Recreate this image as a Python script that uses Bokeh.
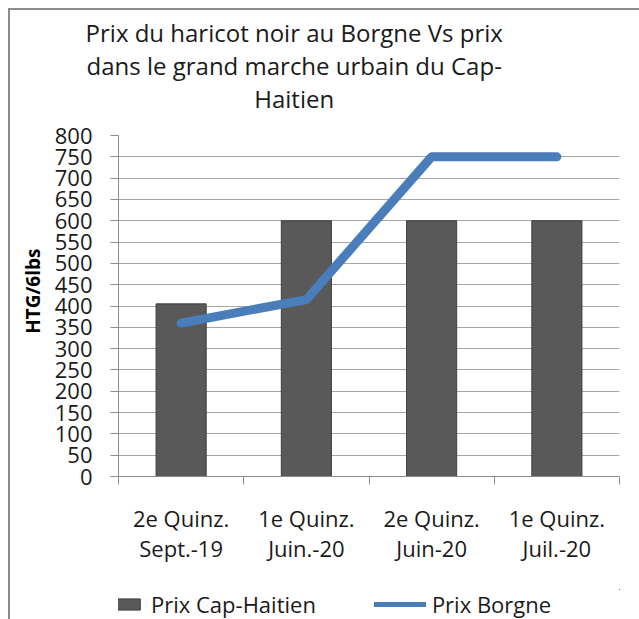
from bokeh.plotting import figure
from bokeh.layouts import column
from bokeh.models import FixedTicker, Title, Legend, LegendItem, Range1d, ColumnDataSource
from bokeh.embed import file_html
from bokeh.resources import INLINE

categories = ["2e Quinz.\nSept.-19", "1e Quinz.\nJuin.-20", "2e Quinz.\nJuin-20", "1e Quinz.\nJuil.-20"]
prix_cap_haitien = [405, 600, 600, 600]
prix_borgne = [360, 415, 750, 750]
y_ticks = list(range(0, 801, 50))
title_lines = ["Prix du haricot noir au Borgne Vs prix",
               "dans le grand marche urbain du Cap-",
               "Haitien"]

FONT = "Open Sans"
BAR = "#595959"
BAR_EDGE = "#3f3f3f"
BLUE = "#4a7ebb"
xs = [i + 0.5 for i in range(len(categories))]
src = ColumnDataSource(dict(x=xs, cap=prix_cap_haitien, borgne=prix_borgne))

p = figure(frame_width=501, frame_height=341, output_backend="svg", toolbar_location=None,
           x_range=Range1d(0, len(categories)), y_range=Range1d(0, 800),
           min_border_left=108, min_border_right=20, min_border_top=125, min_border_bottom=113)
p.outline_line_color = None

p.vbar(x="x", top="cap", width=0.4, source=src, fill_color=BAR, line_color=BAR_EDGE, line_width=1)
p.line(x="x", y="borgne", source=src, line_color=BLUE, line_width=9,
       line_cap="round", line_join="round")

# axes
p.xgrid.visible = False
p.ygrid.grid_line_color = "#a6a6a6"
p.ygrid.ticker = FixedTicker(ticks=y_ticks)
p.yaxis.ticker = FixedTicker(ticks=y_ticks)
p.xaxis.ticker = FixedTicker(ticks=xs, minor_ticks=list(range(len(categories) + 1)))
p.xaxis.major_label_overrides = {x: c for x, c in zip(xs, categories)}
for ax in (p.xaxis, p.yaxis):
    ax.axis_line_color = "#8c8c8c"
    ax.major_label_text_font = FONT
    ax.major_label_text_color = "#1a1a1a"
p.xaxis.major_tick_line_color = None
p.xaxis.minor_tick_line_color = "#8c8c8c"
p.xaxis.minor_tick_out = 8
p.xaxis.minor_tick_in = 0
p.xaxis.major_label_text_font_size = "22px"
p.xaxis.major_label_text_line_height = 1.0
p.xaxis.major_label_standoff = 18
p.yaxis.minor_tick_line_color = None
p.yaxis.major_tick_line_color = "#8c8c8c"
p.yaxis.major_tick_out = 8
p.yaxis.major_tick_in = 0
p.yaxis.major_label_text_font_size = "22px"
p.yaxis.major_label_standoff = 18
p.yaxis.axis_label = "\u00a0" * 6 + "HTG/6lbs"
p.yaxis.axis_label_text_font = FONT
p.yaxis.axis_label_text_font_style = "bold"
p.yaxis.axis_label_text_font_size = "19px"
p.yaxis.axis_label_text_color = "#000000"
p.yaxis.axis_label_standoff = 6

# title above the frame, one panel per line (first added is nearest the frame)
pad = "\u00a0" * 24
p.add_layout(Title(text=" ", text_font_size="2px", standoff=17), "above")
for t in reversed(title_lines):
    p.add_layout(Title(text=t + pad, align="center", vertical_align="middle", standoff=-2,
                       text_font=FONT, text_font_size="24px", text_font_style="normal",
                       text_color="#1a1a1a"), "above")

# legend strip: a second figure whose renderers fall outside its ranges
lg = figure(width=629, height=30, output_backend="svg", toolbar_location=None,
            x_range=Range1d(-10, -9), y_range=Range1d(-10, -9), min_border=0,
            x_axis_location=None, y_axis_location=None)
lg.grid.visible = False
lg.outline_line_color = None
lg_bar = lg.vbar(x="x", top="cap", width=0.4, source=src, fill_color=BAR, line_color=BAR_EDGE)
lg_line = lg.line(x="x", y="borgne", source=src, line_color=BLUE, line_width=5, line_cap="round")
legend = Legend(items=[LegendItem(label="Prix Cap-Haitien", renderers=[lg_bar]),
                       LegendItem(label="Prix Borgne", renderers=[lg_line])],
                orientation="horizontal", location=(-25, 0), padding=0, spacing=58, margin=0,
                glyph_width=52, glyph_height=14, label_standoff=6,
                label_text_font=FONT, label_text_font_size="22px", label_text_color="#1a1a1a",
                border_line_color=None, background_fill_alpha=0)
lg.add_layout(legend, "center")

layout = column(p, lg, spacing=0)
layout.styles = {"border-top": "2px solid #8c8c8c", "border-left": "2px solid #8c8c8c",
                 "margin-left": "8px", "margin-top": "8px"}

open("out.html", "w").write(file_html(layout, INLINE))
